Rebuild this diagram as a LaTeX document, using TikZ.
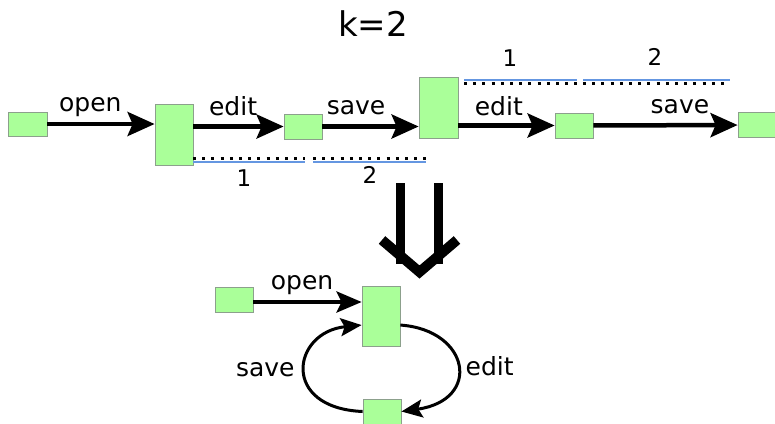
\documentclass[tikz,border=0pt]{standalone}
\usepackage{fontspec}
\setmainfont{DejaVu Sans}
\usetikzlibrary{arrows.meta}
\definecolor{stategreen}{RGB}{170,255,153}
\definecolor{stateedge}{RGB}{140,160,140}
\definecolor{windowblue}{RGB}{100,150,225}
\tikzset{
  state/.style={rectangle, draw=stateedge, fill=stategreen, line width=0.8pt, inner sep=0pt},
  trans/.style={-{Stealth[length=27pt, width=24pt, inset=5pt]}, line width=4.5pt},
  loop trans/.style={-{Stealth[length=21pt, width=18pt, inset=4pt]}, line width=3pt},
  action/.style={font=\fontsize{25}{27}\selectfont, inner sep=0pt, text depth=0pt},
  index/.style={font=\fontsize{23}{25}\selectfont, inner sep=0pt},
  window dots/.style={line width=3pt, dash pattern=on 3pt off 6.2pt},
  window line/.style={windowblue, line width=2pt}
}
\begin{document}
\begin{tikzpicture}[x=1pt, y=-1pt]
  \useasboundingbox (0,0) rectangle (775,423);
  \node (title) at (373,24) {\fontsize{34}{36}\selectfont k=2};

  % trace of the run
  \node (s0) [state, minimum height=24pt, minimum width=39pt] at (27.5,124) {};
  \node (s1) [state, minimum height=61pt, minimum width=38pt] at (174,134.5) {};
  \node (s2) [state, minimum height=25pt, minimum width=38pt] at (303,126.5) {};
  \node (s3) [state, minimum height=61pt, minimum width=39pt] at (438.5,107.5) {};
  \node (s4) [state, minimum height=25pt, minimum width=38pt] at (574,125.5) {};
  \node (s5) [state, minimum height=25pt, minimum width=38pt] at (757,125) {};
  \draw[trans] (s0.east) -- (s1.west |- s0.east) node[action, above=10pt, pos=0.4] {open};
  \draw[trans] (s1.east |- s2) -- (s2) node[action, above=9pt, pos=0.44] {edit};
  \draw[trans] (s2) -- (s3.west |- s2) node[action, above=10pt, pos=0.35] {save};
  \draw[trans] (s3.east |- s4) -- (s4) node[action, above=8pt, pos=0.42] {edit};
  \draw[trans] (s4) -- (s5) node[action, above=9pt, pos=0.6] {save};

  % windows of length k
  \draw[window dots] (193,158) -- (305,158);
  \draw[window line] (193,162) -- (305,162);
  \draw[window dots] (313,158) -- (426,158);
  \draw[window line] (313,162) -- (426,162);
  \node[index] (w1) at (244,178) {1};
  \node[index] (w2) at (370,175) {2};
  \draw[window dots] (464,83) -- (577,83);
  \draw[window line] (464,79.5) -- (577,79.5);
  \draw[window dots] (583,83) -- (730,83);
  \draw[window line] (583,79.5) -- (730,79.5);
  \node[index] (w3) at (510,58) {1};
  \node[index] (w4) at (655,57) {2};

  % folding into a model
  \draw[line width=9pt] (400,183) -- (400,264);
  \draw[line width=9pt] (438,183) -- (438,264);
  \draw[line width=10pt, miter limit=4] (382,240) -- (419.5,272) -- (457,240);

  % resulting automaton
  \node (b0) [state, minimum height=25pt, minimum width=38pt] at (234,299.5) {};
  \node (b1) [state, minimum height=60pt, minimum width=38pt] at (381,316) {};
  \node (b2) [state, minimum height=25pt, minimum width=38pt] at (382,411.5) {};
  \draw[trans, line width=4pt, -{Stealth[length=25pt, width=21pt, inset=5pt]}] (b0.east |- 0,302) -- (b1.west |- 0,302)
    node[action, above=11pt, pos=0.45] {open};
  \draw[loop trans] (b1.-25) .. controls (470,330) and (482,400) .. (b2.east)
    node[action, right=7pt, pos=0.5] {edit};
  \draw[loop trans] (b2.west) .. controls (280,408) and (292,332) .. (b1.205)
    node[action, left=9pt, pos=0.5] {save};
\end{tikzpicture}
\end{document}
